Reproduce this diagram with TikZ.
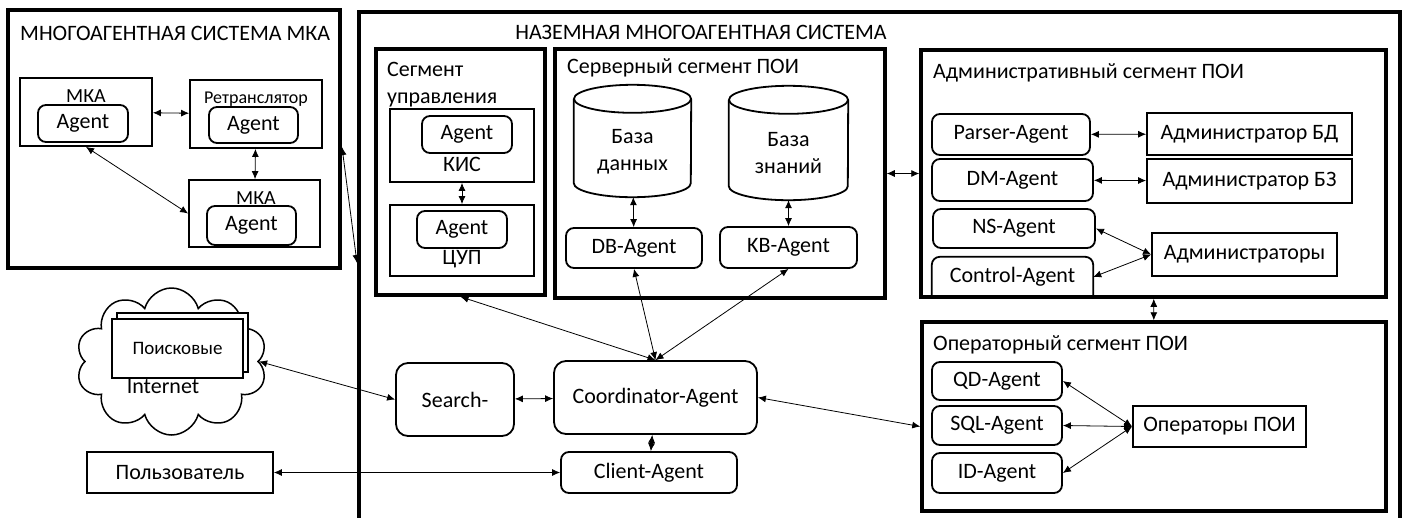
\documentclass[tikz,border=0pt]{standalone}
\usepackage{fontspec}
\setmainfont{Carlito}
\usetikzlibrary{arrows.meta}
\usetikzlibrary{shapes.symbols}
\tikzset{
	>={Latex[length=8pt,width=7pt]},
	wh/.style 2 args={minimum width=#1pt, minimum height=#2pt},
	sysbox/.style={draw, line width=4pt, inner sep=0pt},
	segbox/.style={draw, line width=3.5pt, inner sep=0pt},
	unitbox/.style={draw, line width=1.8pt, inner sep=0pt, fill=white},
	agentbox/.style={draw, line width=1.8pt, rounded corners=8pt, inner sep=0pt, fill=white},
	bigagent/.style={agentbox, rounded corners=12pt},
	cylline/.style={line width=1.8pt},
	link/.style={<->, line width=0.8pt},
	txt/.style={inner sep=0pt},
	title/.style={inner sep=0pt, font=\fontsize{22}{26}\selectfont},
	small/.style={inner sep=0pt, font=\fontsize{19}{23}\selectfont},
}

\begin{document}
\begin{tikzpicture}[x=1pt, y=-1pt, font=\fontsize{22}{27}\selectfont]
	\useasboundingbox (0,0) rectangle (1410,517);
	\clip (0,0) rectangle (1410,517);
	
	% multi-agent system of the spacecraft
	\node[sysbox, wh={332}{258}] (mkasys) at (174,139) {};
	\node[title, anchor=west] (mkatitle) at (20,33) {МНОГОАГЕНТНАЯ СИСТЕМА МКА};
	\node[unitbox, wh={132}{68}] (mka1) at (86,112) {};
	\node[small, font=\fontsize{20}{24}\selectfont] (mka1lbl) at (86,96) {МКА};
	\node[agentbox, wh={90}{37}] (mka1agent) at (83,123.5) {Agent};
	\node[unitbox, wh={132}{68}] (rtr) at (256,114) {};
	\node[small, font=\fontsize{18}{22}\selectfont] (rtrlbl) at (256,99) {Ретранслятор};
	\node[agentbox, wh={89}{36}] (rtragent) at (253.5,125) {Agent};
	\node[unitbox, wh={131}{67}] (mka2) at (254.5,213.5) {};
	\node[small, font=\fontsize{20}{24}\selectfont] (mka2lbl) at (256,198) {МКА};
	\node[agentbox, wh={89}{39}] (mka2agent) at (251.5,225.5) {Agent};
	\draw[link] (mka1) -- (rtr);
	\draw[link] (rtr) -- (mka2);
	\draw[link] (mka1.south) -- (mka2.west);
	
	% ground multi-agent system
	\node[sysbox, wh={1041}{528}] (ground) at (879.5,276) {};
	\node[title] (groundtitle) at (701,32) {НАЗЕМНАЯ МНОГОАГЕНТНАЯ СИСТЕМА};
	\draw[link] ([yshift=-8pt]mkasys.east) -- ([yshift=13pt]ground.west);
	
	% control segment
	\node[segbox, wh={169}{246}] (segctl) at (460.5,172) {};
	\node[txt, anchor=north west, align=left] (segctltitle) at (387,62) {Сегмент\\управления};
	\node[unitbox, wh={144}{73}] (kis) at (462,145.5) {};
	\node[agentbox, wh={90}{37}] (kisagent) at (467,134.5) {Agent};
	\node[txt] (kislbl) at (462,164) {КИС};
	\node[unitbox, wh={144}{71}] (cup) at (462,240.5) {};
	\node[agentbox, wh={90}{37}] (cupagent) at (462,229.5) {Agent};
	\node[txt] (cuplbl) at (462,259) {ЦУП};
	\draw[link] (kis) -- (cup);
	
	% server segment
	\node[segbox, wh={330}{249}] (segsrv) at (720,173.5) {};
	\node[txt, anchor=west] (segsrvtitle) at (567,68) {Серверный сегмент ПОИ};
	\node[wh={117}{112}] (dbase) at (632.5,141) {};
	\draw[cylline] ([yshift=-14pt]dbase.north) ellipse [x radius=58.5pt, y radius=14pt];
	\draw[cylline] ([yshift=-14pt]dbase.north west) -- ([yshift=14pt]dbase.south west)
		arc[start angle=180, end angle=360, x radius=58.5pt, y radius=14pt] -- ([yshift=-14pt]dbase.north east);
	\node[txt, align=center] (dbaselbl) at (632.5,152) {База\\данных};
	\node[wh={119}{114}] (kbase) at (788.5,143) {};
	\draw[cylline] ([yshift=-14pt]kbase.north) ellipse [x radius=59.5pt, y radius=14pt];
	\draw[cylline] ([yshift=-14pt]kbase.north west) -- ([yshift=14pt]kbase.south west)
		arc[start angle=180, end angle=360, x radius=59.5pt, y radius=14pt] -- ([yshift=-14pt]kbase.north east);
	\node[txt, align=center] (kbaselbl) at (788.5,153) {База\\знаний};
	\node[agentbox, wh={136}{40}] (dbagent) at (634,248) {DB-Agent};
	\node[agentbox, wh={137}{41}] (kbagent) at (788.5,247.5) {KB-Agent};
	\draw[link] (dbase) -- (dbagent);
	\draw[link] (kbase) -- (kbagent);
	
	% administrative segment
	\node[segbox, wh={465}{247}] (segadm) at (1153.5,173.5) {};
	\node[txt, anchor=west] (segadmtitle) at (933,73) {Административный сегмент ПОИ};
	\node[agentbox, wh={158}{41}] (parser) at (1011,134.5) {Parser-Agent};
	\node[agentbox, wh={161}{42}] (dm) at (1012.5,180) {DM-Agent};
	\node[agentbox, wh={162}{39}] (ns) at (1014,228.5) {NS-Agent};
	\node[txt, wh={161}{40}] (control) at (1012.5,277) {Control-Agent};
	\draw[line width=1.8pt, rounded corners=8pt] (control.south west) |- (control.north east) -- (control.south east);
	\node[unitbox, wh={205}{42}] (admbd) at (1249.5,134) {Администратор БД};
	\node[unitbox, wh={205}{44}] (admbz) at (1249.5,181) {Администратор БЗ};
	\node[unitbox, wh={185}{43}] (admins) at (1244.5,254.5) {Администраторы};
	\draw[link] (parser) -- (admbd);
	\draw[link] (dm) -- (admbz);
	\draw[link] (ns.east) -- (admins.west);
	\draw[link] (control.east) -- (admins.west);
	
	% operator segment
	\node[segbox, wh={464}{189}] (segop) at (1154,416.5) {};
	\node[txt, anchor=west] (segoptitle) at (933,345) {Операторный сегмент ПОИ};
	\node[agentbox, wh={130}{38}] (qd) at (997,381) {QD-Agent};
	\node[agentbox, wh={130}{39}] (sql) at (997,425.5) {SQL-Agent};
	\node[agentbox, wh={130}{40}] (id) at (997,473) {ID-Agent};
	\node[unitbox, wh={173}{41}] (opers) at (1219.5,426.5) {Операторы ПОИ};
	\foreach \a in {qd,sql,id}
		\draw[link] (opers.west) -- (\a.east);
	\draw[link] (segsrv) -- (segadm);
	\draw[link] (segadm) -- (segop);
	
	% coordinator and its neighbours
	\node[bigagent, wh={203}{73}] (coord) at (655.5,397.5) {Coordinator-Agent};
	\node[agentbox, wh={176}{41}] (client) at (649,472.5) {Client-Agent};
	\node[bigagent, wh={118}{73}] (search) at (455,399.5) {Search-};
	\node[unitbox, wh={186}{41}] (user) at (180,472.5) {Пользователь};
	\node[cloud, draw, line width=1.5pt, cloud puffs=10, aspect=1.3, wh={191}{147}] (inet) at (171.5,361.5) {};
	\node[unitbox, line width=1.5pt, wh={131}{59}] (enginesbk) at (182.5,342.5) {};
	\node[unitbox, line width=1.5pt, wh={131}{59}, small] (engines) at (177.5,348.5) {Поисковые};
	\node[txt] (inetlbl) at (163,387) {Internet};
	
	\draw[link] (inet.east) -- (search.west);
	\draw[link] (search) -- (coord);
	\draw[link] (user) -- (client);
	\draw[link] (client) -- (coord);
	\draw[link] (coord.north) -- (segctl.south);
	\draw[link] (coord.north) -- (dbagent.south);
	\draw[link] (coord.north) -- (kbagent.south);
	\draw[link] (coord.east) -- ([yshift=-10pt]segop.west);
\end{tikzpicture}
\end{document}
